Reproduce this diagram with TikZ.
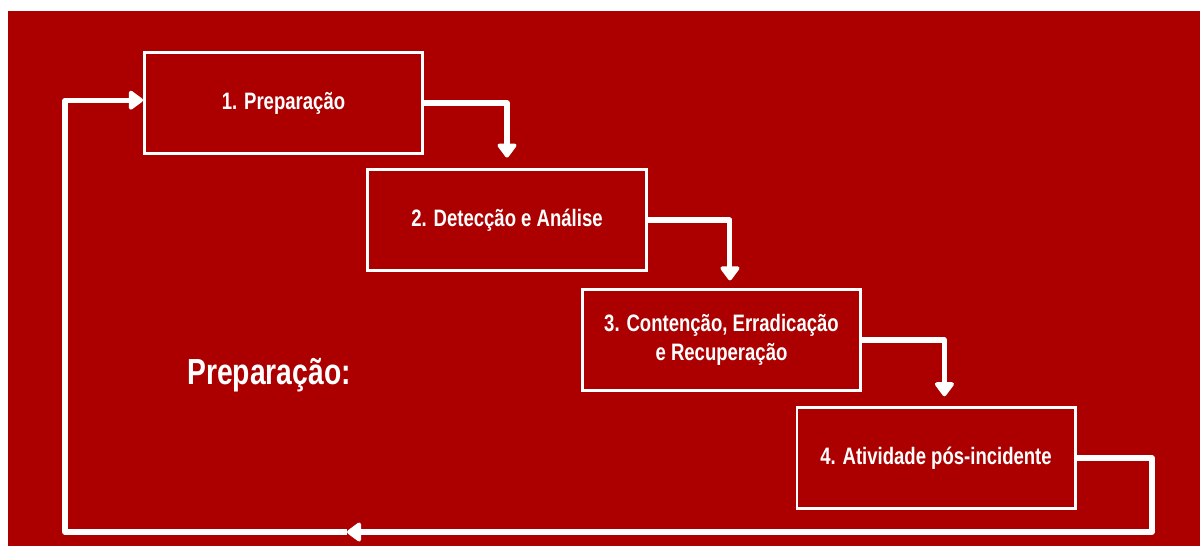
\documentclass[tikz,border=0pt]{standalone}
\usepackage{fontspec}
\setmainfont[FakeStretch=0.78]{Liberation Sans}
\usetikzlibrary{arrows.meta}
\definecolor{bgred}{RGB}{172,0,0}
\tikzset{phase/.style={draw=white, line width=2.1pt, fill=bgred, text=white,
    minimum width=6.95cm, minimum height=2.52cm, inner sep=0pt, align=center,
    font=\fontsize{16.9}{21}\selectfont\bfseries},
  flow/.style={draw=white, line width=3.6pt, line join=round,
    -{Triangle[width=15.5pt, length=11pt, round]}},
  wire/.style={draw=white, line width=3.6pt, line join=round},
  ttl/.style={text=white, font=\fontsize{25.8}{30}\selectfont\bfseries}}

\begin{document}
\begin{tikzpicture}[x=0.025cm, y=-0.025cm]
  \useasboundingbox (0,0) rectangle (1200,546);
  \fill[bgred] (8,11) rectangle (1200,546);
  \node[phase] (b1) at (283.5,103) {1. Preparação};
  \node[phase] (b2) at (507,220)   {2. Detecção e Análise};
  \node[phase] (b3) at (721.5,340) {3. Contenção, Erradicação\\e Recuperação};
  \node[phase] (b4) at (936,458)   {4. Atividade pós-incidente};
  \node[ttl] (t) at (269,375) {Preparação:};
  % step to step
  \draw[flow, shorten >=7.5pt] (b1.east) -| (b2.north);
  \draw[flow, shorten >=5.5pt] (b2.east) -| ([xshift=6pt]b3.north);
  \draw[flow, shorten >=7pt] (b3.east) -| ([xshift=6pt]b4.north);
  % back to the start
  \coordinate (cr) at (1152,532);
  \coordinate (cm) at (347,532);
  \coordinate (cl) at (65,532);
  \draw[flow] (b4.east) -| (cr) -- (cm);
  \draw[flow] (cm) -- (cl) |- ([yshift=2pt]b1.west);
\end{tikzpicture}
\end{document}
